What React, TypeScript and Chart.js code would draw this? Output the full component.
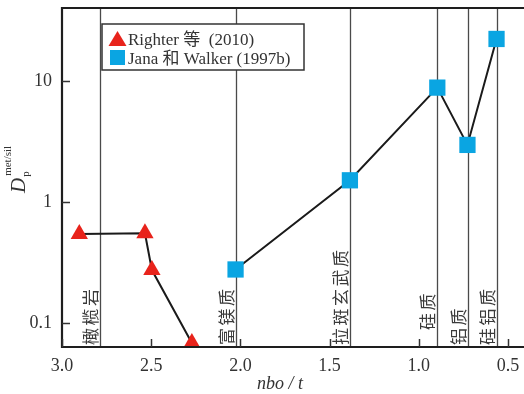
import React, { useEffect, useRef } from 'react';
import { Chart, registerables } from 'chart.js';

Chart.register(...registerables);

const righterLabel = 'Righter 等  (2010)';
const righterX = [2.903, 2.535, 2.496, 2.272];
const righterY = [0.544, 0.552, 0.274, 0.0683];

const janaLabel = 'Jana 和 Walker (1997b)';
const janaX = [2.027, 1.386, 0.896, 0.727, 0.564];
const janaY = [0.277, 1.51, 8.8, 2.96, 22.2];

const refLineX = [2.787, 2.027, 1.386, 0.896, 0.723, 0.564];
const refLineLabels = ['橄榄岩', '富镁质', '拉斑玄武质', '硅质', '铝质', '硅铝质'];

const xTicks = [3.0, 2.5, 2.0, 1.5, 1.0, 0.5];
const xTickLabels = ['3.0', '2.5', '2.0', '1.5', '1.0', '0.5'];
const yTicks = [0.1, 1, 10];
const yTickLabels = ['0.1', '1', '10'];

const xTitle = 'nbo / t';
const yTitleMain = 'D';
const yTitleSub = 'p';
const yTitleSup = 'met/sil';

const RED = '#e8231b';
const BLUE = '#0aa5e2';
const SERIF = '"Liberation Serif", "Times New Roman", "Noto Sans CJK SC", serif';
const CJK = '"Noto Sans CJK SC", sans-serif';

const zeroPad = (s: any) => {
  s.paddingTop = 0;
  s.paddingBottom = 0;
  s.paddingLeft = 0;
  s.paddingRight = 0;
};

const decorPlugin = {
  id: 'decor',
  beforeDatasetsDraw(chart: any) {
    const { ctx, chartArea } = chart;
    const xs = chart.scales.x;
    ctx.save();
    ctx.strokeStyle = '#4a4a4a';
    ctx.lineWidth = 1.3;
    refLineX.forEach((v, i) => {
      const px = Math.round(xs.getPixelForValue(v)) + 0.5;
      ctx.beginPath();
      ctx.moveTo(px, chartArea.top);
      ctx.lineTo(px, chartArea.bottom);
      ctx.stroke();
      const label = refLineLabels[i];
      const cx = px - 10;
      let startY = chartArea.bottom - 2;
      xTicks.forEach((t) => {
        const tp = xs.getPixelForValue(t);
        if (tp > cx - 10 && tp < cx + 10) startY = chartArea.bottom - 17;
      });
      ctx.save();
      ctx.translate(cx, startY);
      ctx.rotate(-Math.PI / 2);
      ctx.font = `17px ${CJK}`;
      (ctx as any).letterSpacing = '2.5px';
      ctx.fillStyle = '#3a3a3a';
      ctx.textAlign = 'left';
      ctx.textBaseline = 'middle';
      ctx.fillText(label, 0, 0);
      ctx.restore();
    });
    ctx.restore();
  },
  afterDatasetsDraw(chart: any) {
    const { ctx, chartArea } = chart;
    const xs = chart.scales.x;
    const ys = chart.scales.y;
    ctx.save();
    ctx.strokeStyle = '#1e1e1e';
    ctx.lineWidth = 2.2;
    ctx.beginPath();
    ctx.moveTo(chartArea.right + 2, chartArea.top);
    ctx.lineTo(chartArea.left, chartArea.top);
    ctx.lineTo(chartArea.left, chartArea.bottom);
    ctx.lineTo(chartArea.right + 2, chartArea.bottom);
    ctx.stroke();
    ctx.lineWidth = 1.5;
    ctx.strokeStyle = '#333';
    xTicks.forEach((t) => {
      const px = Math.round(xs.getPixelForValue(t)) + 0.5;
      ctx.beginPath();
      ctx.moveTo(px, chartArea.bottom);
      ctx.lineTo(px, chartArea.bottom - 8);
      ctx.stroke();
    });
    yTicks.forEach((t) => {
      const py = Math.round(ys.getPixelForValue(t)) + 0.5;
      ctx.beginPath();
      ctx.moveTo(chartArea.left, py);
      ctx.lineTo(chartArea.left + 8, py);
      ctx.stroke();
    });
    // legend
    const lx = 102, ly = 24, lw = 202, lh = 46;
    ctx.fillStyle = '#ffffff';
    ctx.fillRect(lx, ly, lw, lh);
    ctx.strokeStyle = '#333';
    ctx.lineWidth = 1.5;
    ctx.strokeRect(lx, ly, lw, lh);
    ctx.fillStyle = RED;
    ctx.beginPath();
    ctx.moveTo(117.5, 31);
    ctx.lineTo(126.5, 46);
    ctx.lineTo(108.5, 46);
    ctx.closePath();
    ctx.fill();
    ctx.fillStyle = BLUE;
    ctx.fillRect(110, 50, 15, 15);
    ctx.fillStyle = '#333';
    ctx.font = `17px ${SERIF}`;
    ctx.textAlign = 'left';
    ctx.textBaseline = 'alphabetic';
    ctx.fillText(chart.data.datasets[0].label, 128, 45);
    ctx.fillText(chart.data.datasets[1].label, 128, 64);
    // x title
    ctx.font = `italic 18px ${SERIF}`;
    ctx.textAlign = 'center';
    ctx.fillStyle = '#333';
    ctx.fillText(xTitle, 280, 389);
    // y title
    ctx.save();
    ctx.translate(25, 193);
    ctx.rotate(-Math.PI / 2);
    ctx.textAlign = 'left';
    ctx.font = `italic 21px ${SERIF}`;
    ctx.fillText(yTitleMain, 0, 0);
    const dw = ctx.measureText(yTitleMain).width;
    ctx.font = `11px ${SERIF}`;
    ctx.fillText(yTitleSub, dw + 1, 4);
    ctx.fillText(yTitleSup, dw + 2, -14);
    ctx.restore();
    ctx.restore();
  },
};

export default function App() {
  const ref = useRef<HTMLCanvasElement>(null);
  useEffect(() => {
    if (!ref.current) return;
    const chart = new Chart(ref.current, {
      type: 'line',
      data: {
        datasets: [
          {
            label: righterLabel,
            data: righterX.map((x, i) => ({ x, y: righterY[i] })),
            borderColor: '#1a1a1a',
            borderWidth: 2,
            pointStyle: 'triangle',
            pointRadius: 10,
            pointBackgroundColor: RED,
            pointBorderWidth: 0,
            pointBorderColor: RED,
            fill: false,
            tension: 0,
          },
          {
            label: janaLabel,
            data: janaX.map((x, i) => ({ x, y: janaY[i] })),
            borderColor: '#1a1a1a',
            borderWidth: 2,
            pointStyle: 'rect',
            pointRadius: 11.5,
            pointBackgroundColor: BLUE,
            pointBorderWidth: 0,
            pointBorderColor: BLUE,
            fill: false,
            tension: 0,
          },
        ],
      },
      options: {
        animation: false,
        responsive: false,
        devicePixelRatio: 1,
        layout: { autoPadding: false, padding: { top: 8, left: 0, right: 0, bottom: 0 } },
        plugins: { legend: { display: false }, tooltip: { enabled: false } },
        scales: {
          x: {
            type: 'linear',
            reverse: true,
            min: 0.41,
            max: 3.0,
            afterBuildTicks: (s: any) => {
              s.ticks = xTicks.map((v) => ({ value: v }));
            },
            afterFit: (s: any) => {
              s.height = 47;
              zeroPad(s);
            },
            ticks: {
              callback: (v: any) => xTickLabels[xTicks.indexOf(Number(v))] ?? '',
              font: { family: SERIF, size: 18 },
              color: '#333',
              padding: 8,
              maxRotation: 0,
              autoSkip: false,
            },
            grid: { display: false, drawTicks: false },
            border: { display: false },
          },
          y: {
            type: 'logarithmic',
            min: 0.0634,
            max: 40,
            afterBuildTicks: (s: any) => {
              s.ticks = yTicks.map((v) => ({ value: v }));
            },
            afterFit: (s: any) => {
              s.width = 62;
              zeroPad(s);
            },
            ticks: {
              callback: (v: any) => yTickLabels[yTicks.indexOf(Number(v))] ?? '',
              font: { family: SERIF, size: 18 },
              color: '#333',
              padding: 10,
              autoSkip: false,
            },
            grid: { display: false, drawTicks: false },
            border: { display: false },
          },
        },
      },
      plugins: [decorPlugin],
    } as any);
    return () => chart.destroy();
  }, []);
  return (
    <div style={{ position: 'absolute', left: 0, top: 0, width: 524, height: 394, background: '#fff' }}>
      <canvas ref={ref} width={524} height={394} />
    </div>
  );
}
